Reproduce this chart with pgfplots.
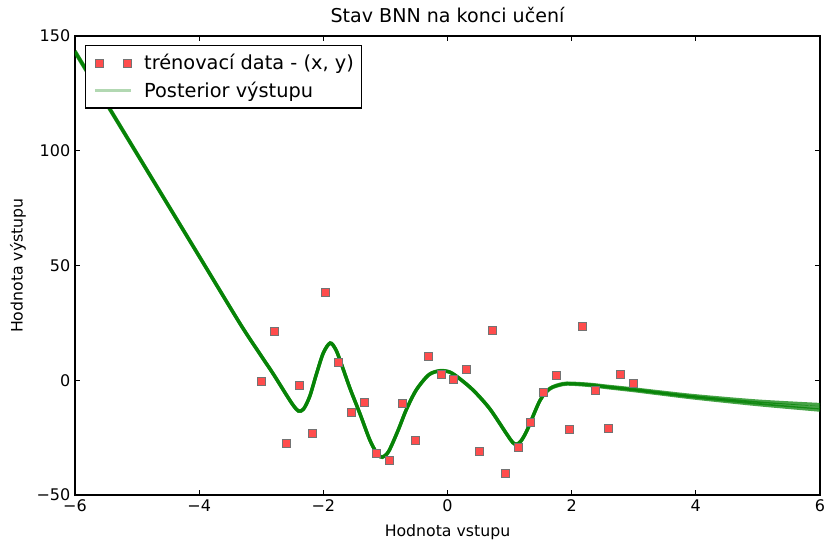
\documentclass[border=0pt]{standalone}
\usepackage{fontspec}
\setmainfont{DejaVu Sans}
\usepackage{pgfplots}
\pgfplotsset{compat=1.18}
\definecolor{mplgreen}{rgb}{0,0.5,0}
\definecolor{ptred}{rgb}{1,0.3,0.3}
\begin{document}
\begin{tikzpicture}
\begin{axis}[
  scale only axis,
  width=558.75pt, height=344.25pt,
  xmin=-6, xmax=6, ymin=-50, ymax=150,
  xtick={-6,-4,-2,0,2,4,6},
  xticklabels={−6,−4,−2,0,2,4,6},
  ytick={-50,0,50,100,150},
  yticklabels={−50,0,50,100,150},
  tick align=inside,
  major tick length=4pt,
  tick style={black, line width=0.6pt},
  axis line style={line width=0.8pt},
  /pgf/number format/assume math mode=true,
  tick label style={font=\fontsize{12}{14}\selectfont},
  label style={font=\fontsize{11.8}{14}\selectfont},
  title style={font=\fontsize{14.3}{17}\selectfont, at={(axis description cs:0.5,1.0109)}, anchor=base},
  xlabel style={at={(axis description cs:0.5,-0.0806)}, anchor=center},
  ylabel style={at={(axis description cs:-0.0765,0.5)}, anchor=center},
  title={Stav BNN na konci učení},
  xlabel={Hodnota vstupu},
  ylabel={Hodnota výstupu},
  legend style={font=\fontsize{14.5}{17}\selectfont, draw=black, line width=0.8pt, rounded corners=0pt, at={(0.0134,0.980)}, anchor=north west, inner xsep=4pt, inner ysep=4.5pt, row sep=3.5pt},
  legend cell align=left,
  clip=true,
]
% posterior samples
\addplot[mplgreen, opacity=0.72, line width=2.5pt, smooth, forget plot] coordinates {
(-6,143.5) (-5,98.8) (-4,54.2) (-3.34,24.7) (-3.02,11.5) (-2.81,3) (-2.59,-6.5) (-2.48,-11) (-2.40,-13.3) (-2.32,-12.5) (-2.22,-7) (-2.11,2.9) (-2.0,12) (-1.89,16.3) (-1.80,13.5) (-1.72,8) (-1.57,-3.5) (-1.41,-14.5) (-1.25,-26) (-1.13,-32) (-1.05,-33.4) (-0.95,-31) (-0.80,-22) (-0.66,-12.5) (-0.5,-4) (-0.3,2.5) (-0.12,4.2) (0.04,3.6) (0.2,0.7) (0.42,-4.4) (0.68,-12.3) (0.95,-23.2) (1.05,-27) (1.11,-27.8) (1.18,-26.5) (1.28,-21.8) (1.49,-8.7) (1.65,-3.5) (1.85,-1.5) (2.0,-1.3) (2.3,-1.8) (2.57,-2.6) (3,-3.8) (3.42,-5.1) (4,-6.8) (5,-9.1) (6,-10.6)};
\addplot[mplgreen, opacity=0.72, line width=2.5pt, smooth, forget plot] coordinates {
(-6,142.8) (-5,98.4) (-4,53.9) (-3.34,24.5) (-3.02,11.3) (-2.81,2.8) (-2.59,-6.7) (-2.48,-11.2) (-2.40,-13.5) (-2.32,-12.7) (-2.22,-7.2) (-2.11,2.7) (-2.0,11.8) (-1.89,16.1) (-1.80,13.3) (-1.72,7.8) (-1.57,-3.7) (-1.41,-14.7) (-1.25,-26.2) (-1.13,-32.2) (-1.05,-33.6) (-0.95,-31.2) (-0.80,-22.2) (-0.66,-12.7) (-0.5,-4.2) (-0.3,2.3) (-0.12,4.0) (0.04,3.4) (0.2,0.5) (0.42,-4.6) (0.68,-12.5) (0.95,-23.4) (1.05,-27.2) (1.11,-28.0) (1.18,-26.7) (1.28,-22.0) (1.49,-8.9) (1.65,-3.8) (1.85,-1.9) (2.0,-1.7) (2.3,-2.3) (2.57,-3.2) (3,-4.5) (3.42,-5.9) (4,-7.8) (5,-10.6) (6,-13.0)};
\addplot[mplgreen, opacity=0.72, line width=2.5pt, smooth, forget plot] coordinates {
(-6,143.2) (-5,98.6) (-4,54.0) (-3.34,24.6) (-3.02,11.4) (-2.81,2.9) (-2.59,-6.6) (-2.48,-11.1) (-2.40,-13.4) (-2.32,-12.6) (-2.22,-7.1) (-2.11,2.8) (-2.0,11.9) (-1.89,16.2) (-1.80,13.4) (-1.72,7.9) (-1.57,-3.6) (-1.41,-14.6) (-1.25,-26.1) (-1.13,-32.1) (-1.05,-33.5) (-0.95,-31.1) (-0.80,-22.1) (-0.66,-12.6) (-0.5,-4.1) (-0.3,2.4) (-0.12,4.1) (0.04,3.5) (0.2,0.6) (0.42,-4.5) (0.68,-12.4) (0.95,-23.3) (1.05,-27.1) (1.11,-27.9) (1.18,-26.6) (1.28,-21.9) (1.49,-8.8) (1.65,-3.6) (1.85,-1.7) (2.0,-1.5) (2.3,-2.0) (2.57,-2.9) (3,-4.1) (3.42,-5.5) (4,-7.3) (5,-9.9) (6,-12.0)};
% training data
\addplot[only marks, mark=square*, mark size=3pt, mark options={fill=ptred, draw=black!55, line width=0.5pt},
  legend image code/.code={
    \draw[fill=ptred, draw=black!55, line width=0.5pt] (3pt,-3pt) rectangle ++(6pt,6pt);
    \draw[fill=ptred, draw=black!55, line width=0.5pt] (24pt,-3pt) rectangle ++(6pt,6pt);
    \path[draw=none, fill=none] (0pt,0pt) -- (38pt,0pt);
  }] coordinates {
(-3.00,-0.4) (-2.79,21.3) (-2.59,-27.5) (-2.38,-2.2) (-2.17,-23.1) (-1.97,38.3)
(-1.76,7.8) (-1.55,-13.9) (-1.34,-9.6) (-1.14,-31.8) (-0.93,-34.9) (-0.72,-10.0)
(-0.52,-26.1) (-0.31,10.5) (-0.10,2.6) (0.10,0.4) (0.31,4.8) (0.52,-30.9)
(0.72,21.8) (0.93,-40.5) (1.14,-29.2) (1.34,-18.3) (1.55,-5.2) (1.76,2.2)
(1.97,-21.4) (2.17,23.5) (2.38,-4.4) (2.59,-20.9) (2.79,2.6) (3.00,-1.3)};
\addlegendentry{trénovací data - (x, y)}
\addlegendimage{legend image code/.code={\draw[mplgreen, opacity=0.3, line width=1.8pt] (3pt,0pt) -- (30pt,0pt); \path[draw=none, fill=none] (0pt,0pt) -- (38pt,0pt);}}
\addlegendentry{Posterior výstupu}
\end{axis}
\pgfresetboundingbox
\path[use as bounding box] (-56.25pt,-36pt) rectangle (561.75pt,371.25pt);
\end{tikzpicture}
\end{document}
